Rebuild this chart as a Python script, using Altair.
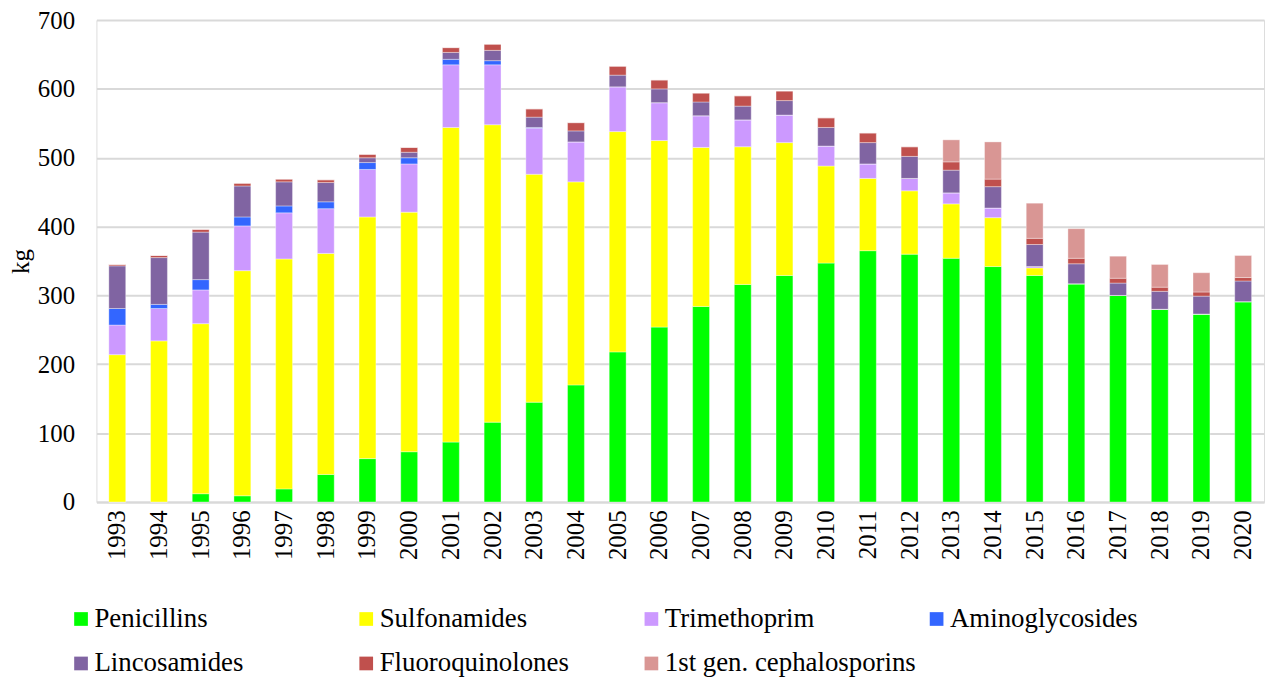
import altair as alt
import pandas as pd

years = [str(y) for y in range(1993, 2021)]

penicillins   = [0, 0, 12, 9, 19, 40, 63, 73, 87, 116, 145, 170, 218, 254, 284, 316, 329, 347, 365, 360, 354, 342, 329, 317, 300, 280, 273, 291]
sulfonamides  = [214, 234, 247, 327, 334, 321, 351, 348, 457, 432, 331, 295, 320, 271, 231, 200, 193, 141, 105, 92, 79, 71, 11, 0, 0, 0, 0, 0]
trimethoprim  = [43, 47, 49, 65, 67, 65, 69, 70, 91, 87, 67, 58, 65, 55, 46, 39, 40, 29, 21, 18, 16, 14, 2, 0, 0, 0, 0, 0]
aminoglycos   = [24, 6, 15, 13, 10, 10, 10, 9, 8, 6, 1, 0, 0, 0, 0, 0, 0, 0, 0, 0, 0, 0, 0, 0, 0, 0, 0, 0]
lincosamides  = [62, 68, 69, 45, 35, 28, 7, 8, 10, 15, 15, 16, 17, 20, 20, 20, 21, 27, 31, 32, 33, 31, 32, 29, 18, 26, 26, 30]
fluoroquin    = [2, 3, 4, 4, 4, 4, 5, 7, 7, 9, 12, 12, 13, 13, 13, 15, 14, 14, 14, 14, 12, 11, 9, 8, 7, 6, 6, 5]
cephalospor   = [0, 0, 0, 0, 0, 0, 0, 0, 0, 0, 0, 0, 0, 0, 0, 0, 0, 0, 0, 0, 32, 54, 51, 43, 32, 33, 28, 32]

classes = ["Penicillins", "Sulfonamides", "Trimethoprim", "Aminoglycosides",
           "Lincosamides", "Fluoroquinolones", "1st gen. cephalosporins"]
colors = ["#00FF00", "#FFFF00", "#CC99FF", "#3366FF", "#8064A2", "#C0504D", "#D99694"]
series = [penicillins, sulfonamides, trimethoprim, aminoglycos, lincosamides, fluoroquin, cephalospor]

rows = []
for k, (name, vals) in enumerate(zip(classes, series)):
    for y, v in zip(years, vals):
        rows.append({"year": y, "class": name, "kg": v, "ord": k})
df = pd.DataFrame(rows)

FONT = "Liberation Serif"

chart = alt.Chart(df).mark_bar(stroke="white", strokeWidth=0.6, strokeOpacity=0.6).encode(
    x=alt.X("year:O", sort=years,
            scale=alt.Scale(paddingInner=0.595, paddingOuter=0.2975),
            axis=alt.Axis(title=None, labelAngle=270, labelFont=FONT, labelFontSize=25,
                          labelColor="black", ticks=False, domainColor="#D9D9D9",
                          domainWidth=2, labelPadding=8, labelAlign="right",
                          labelBaseline="middle")),
    y=alt.Y("kg:Q", stack="zero",
            scale=alt.Scale(domain=[0, 700], nice=False),
            axis=alt.Axis(title="kg", values=[0, 100, 200, 300, 400, 500, 600, 700],
                          labelFont=FONT, labelFontSize=25, labelColor="black",
                          titleFont=FONT, titleFontSize=25, titleFontWeight="normal",
                          titleColor="black", titlePadding=4,
                          domain=False, ticks=False, labelPadding=22,
                          gridColor="#D9D9D9", gridWidth=2)),
    color=alt.Color("class:N", scale=alt.Scale(domain=classes, range=colors),
                    legend=alt.Legend(title=None, orient="none", legendX=-29, legendY=589,
                                      direction="horizontal",
                                      columns=4, gridAlign="all", columnPadding=7,
                                      rowPadding=17, symbolType="square", symbolSize=190,
                                      symbolStrokeWidth=0, labelFont=FONT,
                                      labelFontSize=27, labelColor="black",
                                      labelOffset=0, labelLimit=400)),
    order=alt.Order("ord:Q", sort="ascending"),
).properties(
    width=1175, height=485,
    padding={"left": 89, "top": 10, "right": 2, "bottom": 176},
    autosize=alt.AutoSizeParams(type="none"),
).configure_view(stroke=None).configure(background="white", font=FONT)

chart.save("out.html", embed_options={"renderer": "svg", "actions": False})
